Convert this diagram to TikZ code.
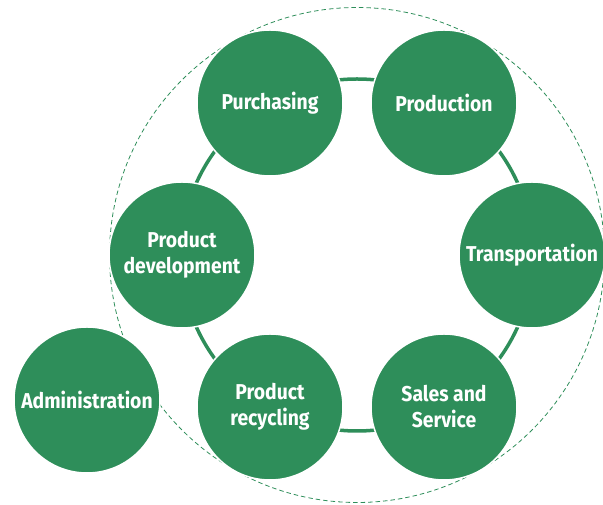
\documentclass[tikz,border=0pt]{standalone}
\usepackage{fontspec}
\setmainfont{Fira Sans}[FakeStretch=0.9]
\usepackage{tikz}
\usetikzlibrary{positioning}
\definecolor{dept}{RGB}{46,142,90}

\begin{document}
\begin{tikzpicture}[
  x=1pt, y=1pt,
  unit/.style={circle, fill=dept, draw=white, line width=1.5pt,
    minimum size=146pt, inner sep=0pt, align=center,
    text=white, font=\fontsize{21.5}{26}\selectfont\bfseries},
  ring/.style={dept, line width=3.5pt},
  outer/.style={dept, line width=0.8pt, dash pattern=on 4.5pt off 3pt},
]
\useasboundingbox (0,0) rectangle (603,505);

% Centre of the cycle
\coordinate (hub) at (357, 250);

% Outer boundary and the ring
\draw[outer] (hub) circle[radius=247.5];
\draw[ring] (hub) circle[radius=176];

% Departments on the ring
\node[unit] (purch) at (270, 402) {Purchasing};
\node[unit] (prod)  at (444, 402) {Production};
\node[unit] (trans) at (532, 250) {Transportation};
\node[unit] (sales) at (444, 98)  {Sales and\\Service};
\node[unit] (recyc) at (270, 98)  {Product\\recycling};
\node[unit] (devel) at (182, 250) {Product\\development};

% Outside the cycle
\node[unit] (admin) at (87, 105) {Administration};

\end{tikzpicture}
\end{document}
